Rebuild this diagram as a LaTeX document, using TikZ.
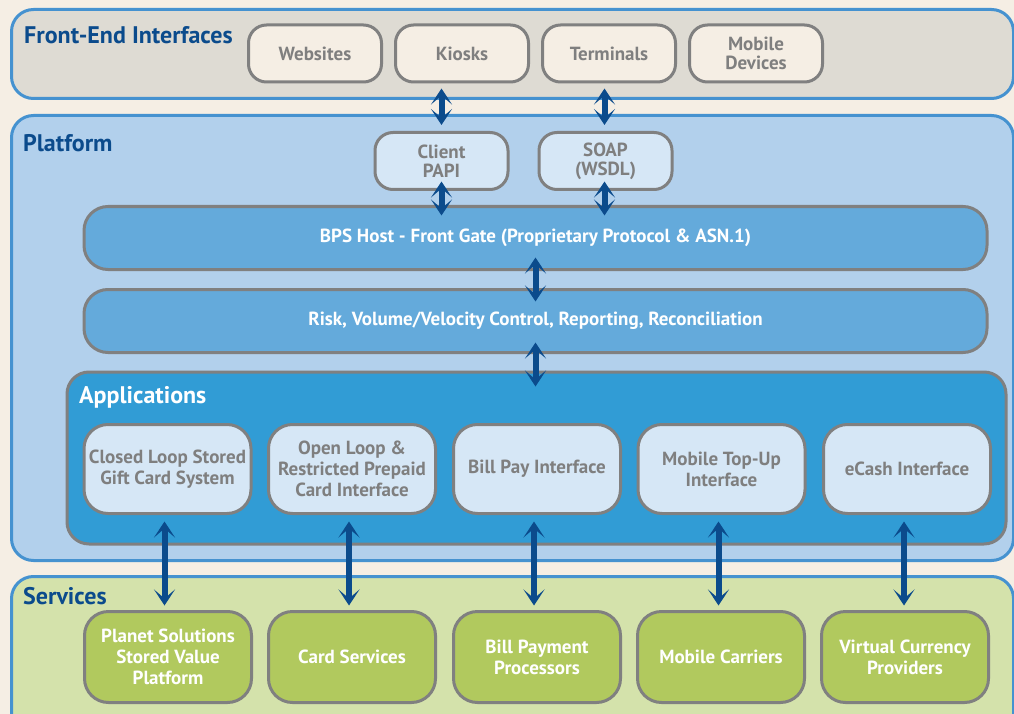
\documentclass[tikz,border=0pt]{standalone}
\usepackage{fontspec}
\setmainfont{PT Sans}
\usetikzlibrary{arrows.meta}
\definecolor{cream}{HTML}{F5EEE4}
\definecolor{frontfill}{HTML}{DEDBD3}
\definecolor{bandblue}{HTML}{4592D0}
\definecolor{platfill}{HTML}{B2D0EC}
\definecolor{appsfill}{HTML}{319CD5}
\definecolor{barfill}{HTML}{64AADB}
\definecolor{lightbox}{HTML}{D6E7F6}
\definecolor{boxgray}{HTML}{808080}
\definecolor{textgray}{HTML}{7F7F7F}
\definecolor{titleblue}{HTML}{0B4B8C}
\definecolor{servfill}{HTML}{D4E2AB}
\definecolor{servbox}{HTML}{B1C95E}
\begin{document}
\begin{tikzpicture}
		[x=1pt,y=-1pt,
		band/.style={draw=bandblue,line width=3pt,rounded corners=22pt},
		title/.style={anchor=base west,inner sep=0pt,text=titleblue,font=\bfseries\fontsize{24}{26}\selectfont},
		box/.style={draw=boxgray,line width=3pt,rounded corners=18pt,inner sep=1pt,align=center,
			text=textgray,font=\bfseries\fontsize{19}{21}\selectfont},
		frontbox/.style={box,fill=cream,minimum width=133pt,minimum height=57pt,
			font=\bfseries\fontsize{19}{19}\selectfont},
		gatebox/.style={frontbox,fill=lightbox},
		bar/.style={box,fill=barfill,rounded corners=24pt,minimum width=903pt,minimum height=63pt,text=white},
		appbox/.style={box,fill=lightbox,rounded corners=24pt,minimum width=167pt,minimum height=89pt},
		servicebox/.style={box,fill=servbox,rounded corners=24pt,minimum width=167pt,minimum height=91pt,text=white},
		biarrow/.style={draw=titleblue,line width=6pt,
			{Stealth[length=16pt,width=21pt,inset=9pt]}-{Stealth[length=16pt,width=21pt,inset=9pt]}}
		]
		\clip (0,0) rectangle (1014,714);
		\fill[cream] (0,0) rectangle (1014,714);
		\draw[band,fill=frontfill] (11.5,9.5) rectangle (1013.5,98.5);
		\draw[band,fill=platfill] (11.5,115.5) rectangle (1013.5,560.5);
		\draw[band,fill=servfill] (11.5,576.5) rectangle (1013.5,740);
		\node[title] (fronttitle) at (24,44) {Front-End Interfaces};
		\node[title] (plattitle) at (23,152) {Platform};
		\node[title] (servtitle) at (23,604) {Services};
		\node[frontbox] (websites) at (315,53.5) {Websites};
		\node[frontbox] (kiosks) at (462,53.5) {Kiosks};
		\node[frontbox] (terminals) at (609,53.5) {Terminals};
		\node[frontbox] (mobile) at (756,53.5) {Mobile\\Devices};
		\node[gatebox] (client) at (441.5,161) {Client\\PAPI};
		\node[gatebox] (soap) at (605.5,161) {SOAP\\(WSDL)};
		\node[bar] (bps) at (535.5,238) {BPS Host - Front Gate (Proprietary Protocol \& ASN.1)};
		\node[bar] (risk) at (535.5,321) {Risk, Volume/Velocity Control, Reporting, Reconciliation};
		\node[box,fill=appsfill,rounded corners=22pt,minimum width=939pt,minimum height=172pt] (apps) at (536.5,458) {};
		\node[title,text=white] (appstitle) at (79,403) {Applications};
		\node[appbox] (closed) at (167.5,469) {Closed Loop Stored\\Gift Card System};
		\node[appbox] (open) at (352,469) {Open Loop \&\\Restricted Prepaid\\Card Interface};
		\node[appbox] (billpay) at (537,469) {Bill Pay Interface};
		\node[appbox] (topup) at (721.5,469) {Mobile Top-Up\\Interface};
		\node[appbox] (ecash) at (907,469) {eCash Interface};
		\node[servicebox] (planet) at (168,657) {Planet Solutions\\Stored Value\\Platform};
		\node[servicebox] (cards) at (352,657) {Card Services};
		\node[servicebox] (billproc) at (537,657) {Bill Payment\\Processors};
		\node[servicebox] (carriers) at (721,657) {Mobile Carriers};
		\node[servicebox] (virtual) at (905,657) {Virtual Currency\\Providers};
		\draw[biarrow,shorten <=5pt,shorten >=6pt] (kiosks.south -| client.north) -- (client.north);
		\draw[biarrow,shorten <=5pt,shorten >=6pt] ([xshift=-1pt]terminals.south -| soap.north) -- ([xshift=-1pt]soap.north);
		\draw[biarrow,shorten <=-9.5pt,shorten >=-10.5pt] (client.south) -- (client.south |- bps.north);
		\draw[biarrow,shorten <=-9.5pt,shorten >=-10.5pt] ([xshift=-1pt]soap.south) -- ([xshift=-1pt]soap.south |- bps.north);
		\draw[biarrow,shorten <=-13.5pt,shorten >=-13.5pt] (bps.south) -- (risk.north);
		\draw[biarrow,shorten <=-11.5pt,shorten >=-16pt] (risk.south) -- (risk.south |- apps.north);
		\foreach \app/\service in {closed/planet,open/cards,billpay/billproc,topup/carriers,ecash/virtual}
			\draw[biarrow,shorten <=6.5pt,shorten >=4.5pt] ([xshift=-3pt]\app.south) -- ([xshift=-3pt]\app.south |- \service.north);
	\end{tikzpicture}
\end{document}
